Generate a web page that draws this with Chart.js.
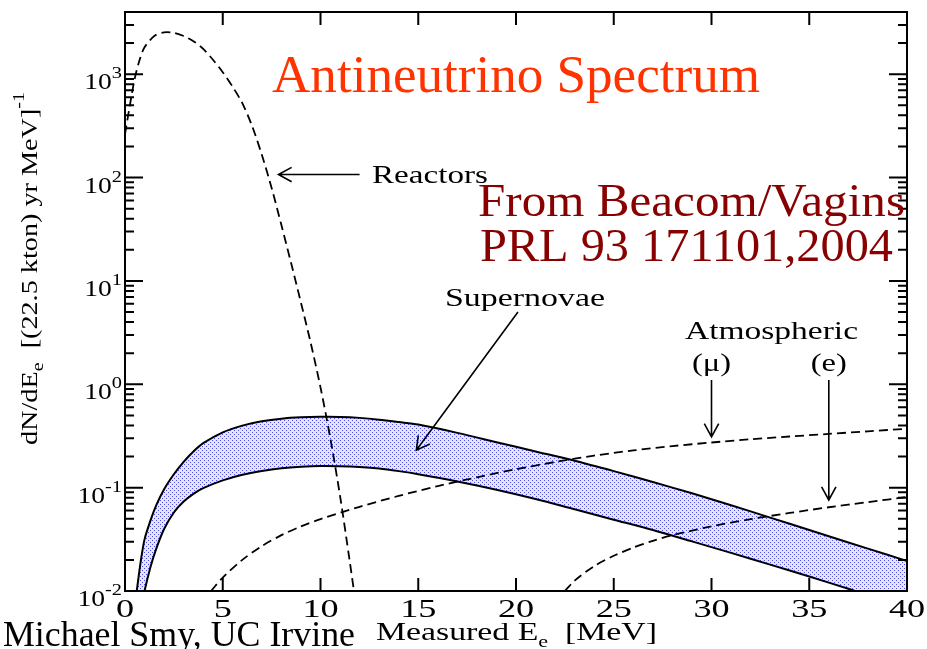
<!DOCTYPE html>
<html>
<head>
<meta charset="utf-8">
<script src="https://cdn.jsdelivr.net/npm/chart.js@4.4.1/dist/chart.umd.min.js"></script>
<style>
  html, body { margin: 0; padding: 0; background: #fff; overflow: hidden; }
  #wrap { width: 927px; height: 649px; }
</style>
</head>
<body>
<div id="wrap"><canvas id="c" width="927" height="649"></canvas></div>
<script>
// ---- spectra: positron energy (MeV) and event rate per MeV ----
const reactorE = [0, 0.25, 0.5, 0.75, 1, 1.5, 2, 2.5, 3, 3.5, 4, 4.5, 5, 5.5, 6, 6.5, 7, 7.5, 8, 8.5, 9, 9.5, 10, 10.5, 11, 11.5, 11.75];
const reactorN = [263, 501, 912, 1380, 1820, 2344, 2541, 2512, 2344, 2089, 1758, 1380, 1047, 759, 525, 316, 166, 79.4, 34.7, 14.8, 6.17, 2.51, 0.933, 0.302, 0.0832, 0.0191, 0.0089];

const snE    = [0.6, 0.8, 1.0, 1.3, 1.6, 2, 2.5, 3, 3.5, 4, 5, 6, 7, 8, 9, 10, 11, 12, 13, 14, 15, 17, 19, 21, 23, 25, 27, 29, 31, 33, 35, 37, 39, 40];
const snHigh = [0.0100, 0.01905, 0.0316, 0.0479, 0.0676, 0.0966, 0.1349, 0.1778, 0.2239, 0.2692, 0.3428, 0.3981, 0.4385, 0.4645, 0.4786, 0.4842, 0.4831, 0.4732, 0.455, 0.4315, 0.4074, 0.3388, 0.2754, 0.2239, 0.182, 0.1445, 0.1135, 0.0881, 0.0676, 0.0513, 0.0389, 0.0295, 0.0224, 0.0195];
const snLow  = [0.0040, 0.0063, 0.0100, 0.0170, 0.0257, 0.0398, 0.0575, 0.0733, 0.0871, 0.0989, 0.1175, 0.1334, 0.1452, 0.1542, 0.1596, 0.1622, 0.1614, 0.1585, 0.1531, 0.1445, 0.1349, 0.1148, 0.0955, 0.0776, 0.0617, 0.049, 0.0389, 0.0302, 0.0234, 0.018, 0.0138, 0.0105, 0.0079, 0.0069];

const atmMuE = [4.4, 5, 6, 7, 8, 9, 10, 12, 14, 16, 18, 20, 22, 24, 26, 28, 30, 32, 34, 36, 38, 40];
const atmMuN = [0.0100, 0.0135, 0.02, 0.0272, 0.0347, 0.0422, 0.0496, 0.0653, 0.0832, 0.1035, 0.1259, 0.1507, 0.177, 0.2042, 0.2291, 0.2523, 0.2735, 0.2938, 0.3126, 0.3311, 0.3508, 0.3715];

const atmEE = [22.5, 23, 24, 25, 26, 27, 28, 30, 32, 34, 36, 38, 40];
const atmEN = [0.0100, 0.0126, 0.0174, 0.0219, 0.0263, 0.0306, 0.0347, 0.0422, 0.0496, 0.0569, 0.0646, 0.0724, 0.0813];

// ---- axis ticks ----
const xTicks = [0, 5, 10, 15, 20, 25, 30, 35, 40];
const xTickLabels = ['0', '5', '10', '15', '20', '25', '30', '35', '40'];
const yDecades = [-2, -1, 0, 1, 2, 3];
const yMinorMult = [2, 3, 4, 5, 6, 7, 8, 9];

const SERIF = '"Liberation Serif", "Times New Roman", serif';

function pts(xs, ys) { return xs.map((x, i) => ({ x: x, y: ys[i] })); }

const canvas = document.getElementById('c');
const ctx0 = canvas.getContext('2d');

// light lavender fill with a staggered blue dot screen
function dotPattern() {
  const t = document.createElement('canvas');
  t.width = 4; t.height = 4;
  const g = t.getContext('2d');
  g.fillStyle = '#e6e6fd';
  g.fillRect(0, 0, 4, 4);
  g.fillStyle = '#4b4bef';
  g.fillRect(0, 0, 1, 1);
  g.fillRect(2, 2, 1, 1);
  return ctx0.createPattern(t, 'repeat');
}

// draw a sequence of text runs (size, vertical shift) stretched along the baseline
function runs(ctx, list, x, y, o) {
  o = o || {};
  ctx.save();
  let total = 0;
  list.forEach(r => {
    ctx.font = r.size + 'px ' + SERIF;
    r.w = ctx.measureText(r.t).width;
    total += r.w;
  });
  const sx = o.width ? o.width / total : (o.sx || 1);
  ctx.translate(x, y);
  if (o.rotate) ctx.rotate(o.rotate);
  let start = 0;
  if (o.align === 'center') start = -total * sx / 2;
  else if (o.align === 'right') start = -total * sx;
  ctx.translate(start, 0);
  ctx.scale(sx, 1);
  ctx.fillStyle = o.color || '#000';
  ctx.textBaseline = 'alphabetic';
  ctx.textAlign = 'left';
  let cx = 0;
  list.forEach(r => {
    ctx.font = r.size + 'px ' + SERIF;
    ctx.fillText(r.t, cx, r.dy || 0);
    cx += r.w;
  });
  ctx.restore();
}

function arrow(ctx, x1, y1, x2, y2) {
  const a = Math.atan2(y2 - y1, x2 - x1);
  const L = 15, h = 0.5;
  ctx.beginPath();
  ctx.moveTo(x1, y1); ctx.lineTo(x2, y2);
  ctx.moveTo(x2 - L * Math.cos(a - h), y2 - L * Math.sin(a - h));
  ctx.lineTo(x2, y2);
  ctx.lineTo(x2 - L * Math.cos(a + h), y2 - L * Math.sin(a + h));
  ctx.stroke();
}

const decor = {
  id: 'decor',
  afterDraw(chart) {
    const ctx = chart.ctx;
    const xs = chart.scales.x, ys = chart.scales.y;
    const a = chart.chartArea;
    ctx.save();
    ctx.strokeStyle = '#000';
    ctx.lineWidth = 2;
    ctx.lineCap = 'butt';

    // frame
    ctx.strokeRect(a.left, a.top, a.right - a.left, a.bottom - a.top);

    // inward ticks
    ctx.beginPath();
    xTicks.forEach(v => {
      const px = xs.getPixelForValue(v);
      ctx.moveTo(px, a.bottom); ctx.lineTo(px, a.bottom - 13);
      ctx.moveTo(px, a.top); ctx.lineTo(px, a.top + 13);
    });
    yDecades.forEach(e => {
      const base = Math.pow(10, e);
      const py = ys.getPixelForValue(base);
      ctx.moveTo(a.left, py); ctx.lineTo(a.left + 18, py);
      ctx.moveTo(a.right, py); ctx.lineTo(a.right - 18, py);
      yMinorMult.forEach(m => {
        const v = m * base;
        if (v > ys.max) return;
        const q = ys.getPixelForValue(v);
        ctx.moveTo(a.left, q); ctx.lineTo(a.left + 9, q);
        ctx.moveTo(a.right, q); ctx.lineTo(a.right - 9, q);
      });
    });
    ctx.stroke();

    // tick labels
    xTicks.forEach((v, i) => {
      runs(ctx, [{ t: xTickLabels[i], size: 25 }], xs.getPixelForValue(v), a.bottom + 26, { align: 'center', sx: 1.45 });
    });
    yDecades.forEach(e => {
      const py = ys.getPixelForValue(Math.pow(10, e));
      runs(ctx, [{ t: '10', size: 23 }, { t: e < 0 ? '-' + (-e) : String(e), size: 17, dy: -11 }],
        122, py + 15, { align: 'right', sx: 1.2 });
    });

    // axis titles
    runs(ctx, [{ t: 'Measured E', size: 26 }, { t: 'e', size: 17, dy: 7 }, { t: '  [MeV]', size: 26 }],
      376, 640, { width: 281 });
    runs(ctx, [{ t: 'dN/dE', size: 24 }, { t: 'e', size: 17, dy: 6 }, { t: '  [(22.5 kton) yr MeV]', size: 24 }, { t: '-1', size: 17, dy: -13 }],
      37, 445, { width: 353, rotate: -Math.PI / 2 });

    // curve labels and pointers
    runs(ctx, [{ t: 'Reactors', size: 25 }], 372, 183, { width: 116 });
    runs(ctx, [{ t: 'Supernovae', size: 25 }], 445, 306, { width: 160 });
    runs(ctx, [{ t: 'Atmospheric', size: 25 }], 685, 339, { width: 173 });
    runs(ctx, [{ t: '(\u03bc)', size: 25 }], xs.getPixelForValue(30), 371, { align: 'center', sx: 1.3 });
    runs(ctx, [{ t: '(e)', size: 25 }], xs.getPixelForValue(36), 371, { align: 'center', sx: 1.3 });

    ctx.lineWidth = 1.6;
    arrow(ctx, xs.getPixelForValue(12.0), ys.getPixelForValue(107), xs.getPixelForValue(7.85), ys.getPixelForValue(107));
    arrow(ctx, xs.getPixelForValue(20.1), ys.getPixelForValue(5.0), xs.getPixelForValue(14.9), ys.getPixelForValue(0.23));
    arrow(ctx, xs.getPixelForValue(30), ys.getPixelForValue(1.1), xs.getPixelForValue(30), ys.getPixelForValue(0.31));
    arrow(ctx, xs.getPixelForValue(36), ys.getPixelForValue(1.1), xs.getPixelForValue(36), ys.getPixelForValue(0.076));

    // headings
    runs(ctx, [{ t: 'Antineutrino Spectrum', size: 53 }], 272, 92, { width: 488, color: '#ff3300' });
    runs(ctx, [{ t: 'From Beacom/Vagins', size: 46 }], 478, 216, { width: 427, color: '#880000' });
    runs(ctx, [{ t: 'PRL 93 171101,2004', size: 46 }], 480, 261, { width: 413, color: '#880000' });
    runs(ctx, [{ t: 'Michael Smy, UC Irvine', size: 36 }], 3, 646, { width: 352 });
    ctx.restore();
  }
};

const dashed = { borderColor: '#000', borderWidth: 1.8, borderDash: [9, 5], fill: false, tension: 0.3, order: 0 };

new Chart(canvas, {
  type: 'line',
  data: {
    datasets: [
      { label: 'Supernovae (upper)', data: pts(snE, snHigh), borderColor: '#000', borderWidth: 2,
        backgroundColor: dotPattern(), fill: '+1', tension: 0.3, order: 2 },
      { label: 'Supernovae (lower)', data: pts(snE, snLow), borderColor: '#000', borderWidth: 2,
        fill: false, tension: 0.3, order: 1 },
      Object.assign({ label: 'Reactors', data: pts(reactorE, reactorN) }, dashed),
      Object.assign({ label: 'Atmospheric (mu)', data: pts(atmMuE, atmMuN) }, dashed),
      Object.assign({ label: 'Atmospheric (e)', data: pts(atmEE, atmEN) }, dashed)
    ]
  },
  options: {
    responsive: false,
    animation: false,
    devicePixelRatio: 1,
    layout: { padding: { left: 0, right: 20, top: 12, bottom: 0 } },
    elements: { point: { radius: 0, hoverRadius: 0 } },
    plugins: { legend: { display: false }, tooltip: { enabled: false } },
    scales: {
      x: {
        type: 'linear', min: 0, max: 40,
        ticks: { display: false }, grid: { display: false }, border: { display: false },
        afterFit(s) { s.height = 58; }
      },
      y: {
        type: 'logarithmic', min: 0.01, max: 4000,
        ticks: { display: false }, grid: { display: false }, border: { display: false },
        afterFit(s) { s.width = 125; }
      }
    }
  },
  plugins: [decor]
});
</script>
</body>
</html>
